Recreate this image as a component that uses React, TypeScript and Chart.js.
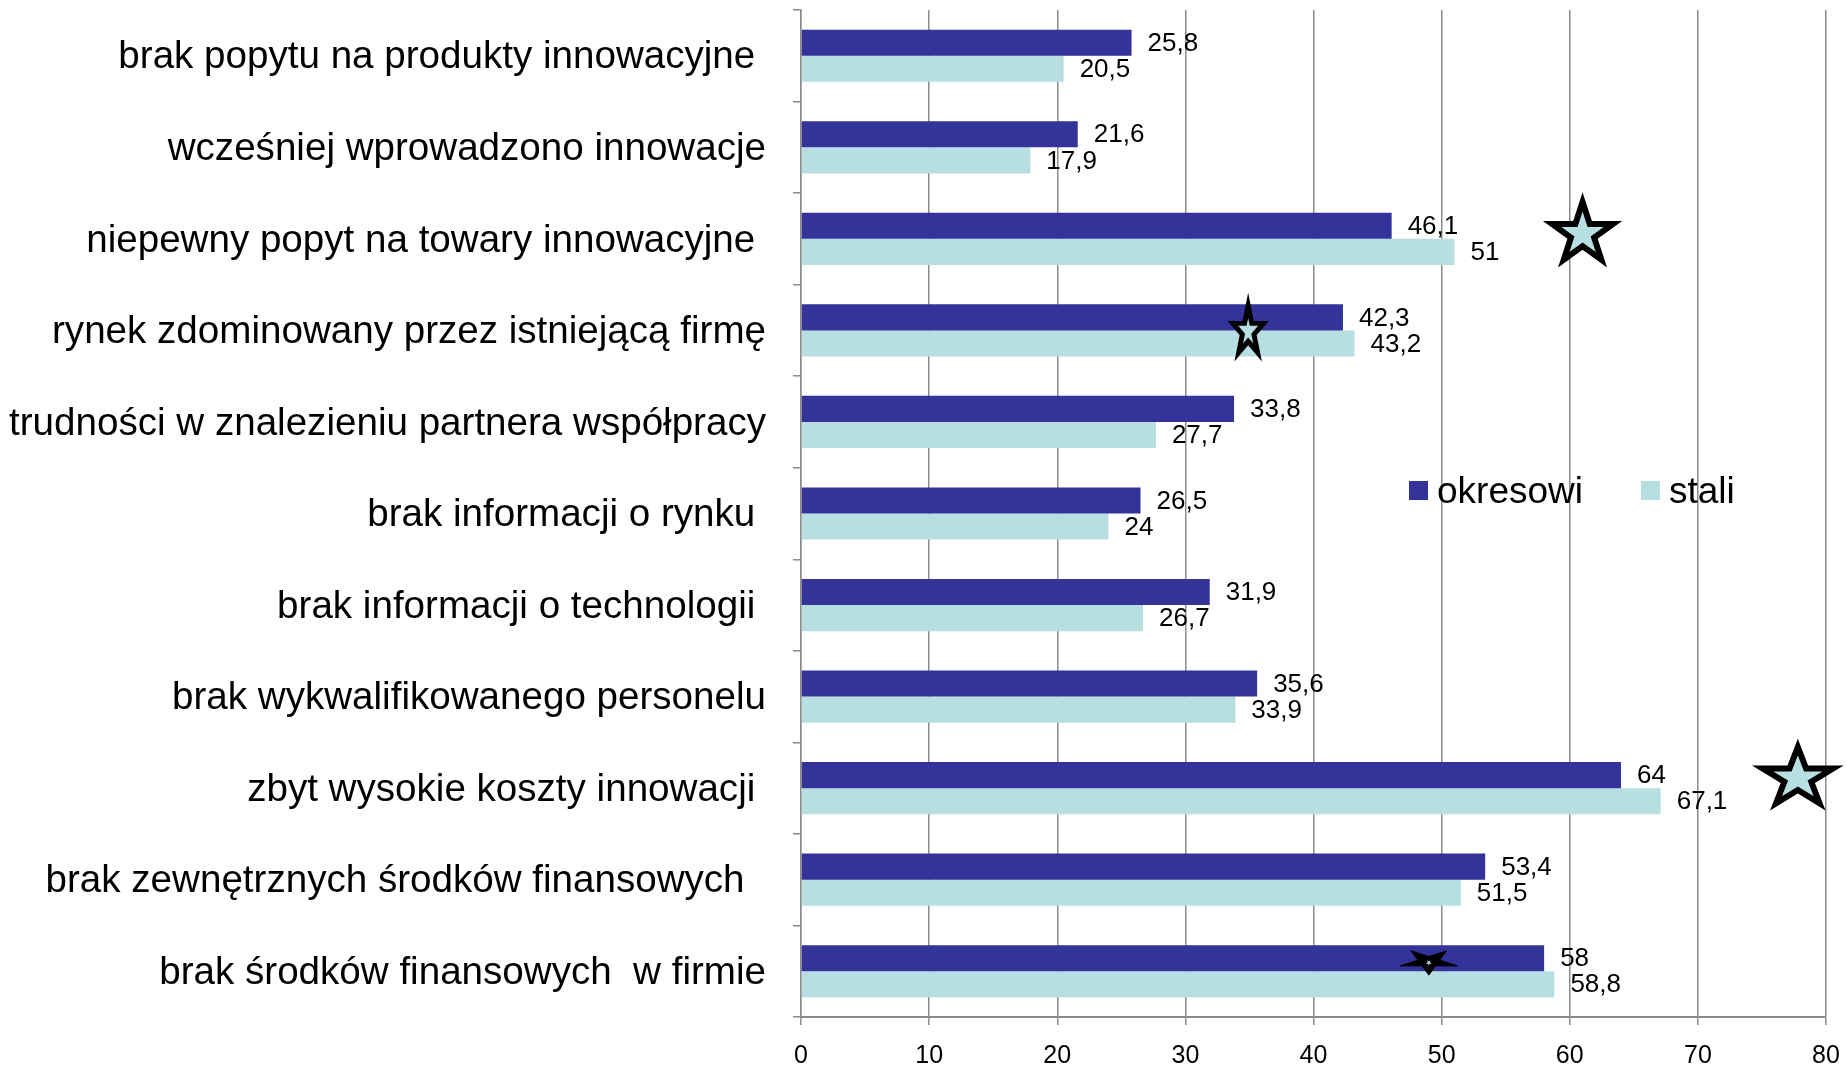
import React, { useEffect, useRef } from 'react';
import { Chart, registerables } from 'chart.js';

Chart.register(...registerables);

const categories = [
  'brak popytu na produkty innowacyjne ',
  'wcześniej wprowadzono innowacje',
  'niepewny popyt na towary innowacyjne ',
  'rynek zdominowany przez istniejącą firmę',
  'trudności w znalezieniu partnera współpracy',
  'brak informacji o rynku ',
  'brak informacji o technologii ',
  'brak wykwalifikowanego personelu',
  'zbyt wysokie koszty innowacji ',
  'brak zewnętrznych środków finansowych  ',
  'brak środków finansowych  w firmie',
];

const seriesNames = ['okresowi', 'stali'];
const okresowi = [25.8, 21.6, 46.1, 42.3, 33.8, 26.5, 31.9, 35.6, 64, 53.4, 58];
const stali = [20.5, 17.9, 51, 43.2, 27.7, 24, 26.7, 33.9, 67.1, 51.5, 58.8];

const xTicks = [0, 10, 20, 30, 40, 50, 60, 70, 80];

// star markers: x value and category index
const starValues = [61.0, 34.9, 77.8, 49.0];
const starCategories = [2, 3, 8, 10];

const DARK = '#333399';
const LIGHT = '#b7dfe2';
const GRID = '#8c8c8c';
const FONT = '"Liberation Sans", Arial, sans-serif';

const STAR_STYLES = [
  { dy: -5, rx: 32, ry: 32, lw: 6, fill: LIGHT, inverted: false, dot: false },
  { dy: 1, rx: 16, ry: 26, lw: 5, fill: LIGHT, inverted: false, dot: false },
  { dy: -10, rx: 37, ry: 31, lw: 6, fill: LIGHT, inverted: false, dot: false },
  { dy: -9.5, rx: 30, ry: 13.4, lw: 1, fill: '#000000', inverted: true, dot: true },
];

function starPath(ctx: CanvasRenderingContext2D, cx: number, cy: number, rx: number, ry: number, inverted: boolean, inner = 0.382) {
  ctx.beginPath();
  for (let i = 0; i < 10; i++) {
    const a = (inverted ? Math.PI / 2 : -Math.PI / 2) + (i * Math.PI) / 5;
    const r = i % 2 === 0 ? 1 : inner;
    const x = cx + rx * r * Math.cos(a);
    const y = cy + ry * r * Math.sin(a);
    if (i === 0) ctx.moveTo(x, y);
    else ctx.lineTo(x, y);
  }
  ctx.closePath();
}

const valueLabels = {
  id: 'valueLabels',
  afterDatasetsDraw(chart: any) {
    const ctx = chart.ctx as CanvasRenderingContext2D;
    ctx.save();
    ctx.font = `26px ${FONT}`;
    ctx.fillStyle = '#000';
    ctx.textBaseline = 'middle';
    ctx.textAlign = 'left';
    chart.data.datasets.forEach((ds: any, i: number) => {
      const meta = chart.getDatasetMeta(i);
      meta.data.forEach((bar: any, j: number) => {
        const v = ds.data[j];
        ctx.fillText(String(v).replace('.', ','), bar.x + 16, bar.y + 1);
      });
    });
    ctx.restore();
  },
};

const starMarkers = {
  id: 'starMarkers',
  afterDatasetsDraw(chart: any) {
    const ctx = chart.ctx as CanvasRenderingContext2D;
    const xs = chart.scales.x;
    const ys = chart.scales.y;
    ctx.save();
    starValues.forEach((v, i) => {
      const st = STAR_STYLES[i];
      const cx = xs.getPixelForValue(v);
      const cy = ys.getPixelForValue(starCategories[i]) + st.dy;
      starPath(ctx, cx, cy, st.rx, st.ry, st.inverted);
      ctx.fillStyle = st.fill;
      ctx.fill();
      ctx.lineJoin = 'miter';
      ctx.miterLimit = 10;
      ctx.lineWidth = st.lw;
      ctx.strokeStyle = '#000';
      ctx.stroke();
      if (st.dot) {
        starPath(ctx, cx, cy + 1, 3, 3, true);
        ctx.fillStyle = LIGHT;
        ctx.fill();
      }
    });
    ctx.restore();
  },
};

const legendBox = {
  id: 'legendBox',
  afterDraw(chart: any) {
    const ctx = chart.ctx as CanvasRenderingContext2D;
    ctx.save();
    ctx.font = `37px ${FONT}`;
    ctx.textBaseline = 'alphabetic';
    ctx.textAlign = 'left';
    const positions = [1409, 1641];
    chart.data.datasets.forEach((ds: any, i: number) => {
      const x = positions[i];
      ctx.fillStyle = ds.backgroundColor;
      ctx.fillRect(x, 481, 19, 19);
      ctx.fillStyle = '#000';
      ctx.fillText(ds.label, x + 28, 503);
    });
    ctx.restore();
  },
};

export default function App() {
  const ref = useRef<HTMLCanvasElement | null>(null);

  useEffect(() => {
    document.body.style.margin = '0';
    document.documentElement.style.overflow = 'hidden';
    const canvas = ref.current;
    if (!canvas) return;
    const chart = new Chart(canvas, {
      type: 'bar',
      data: {
        labels: categories,
        datasets: [
          { label: seriesNames[0], data: okresowi, backgroundColor: DARK, borderWidth: 0, categoryPercentage: 0.57, barPercentage: 1.0 },
          { label: seriesNames[1], data: stali, backgroundColor: LIGHT, borderWidth: 0, categoryPercentage: 0.57, barPercentage: 1.0 },
        ],
      },
      options: {
        indexAxis: 'y',
        responsive: false,
        animation: false,
        events: [],
        layout: { padding: { top: 10, right: 21, bottom: 0, left: 0 } },
        plugins: {
          legend: { display: false },
          tooltip: { enabled: false },
          title: { display: false },
        },
        scales: {
          x: {
            type: 'linear',
            min: 0,
            max: 80,
            grid: { color: GRID, lineWidth: 1.5, drawTicks: true, tickLength: 8 },
            border: { color: GRID, width: 2 },
            ticks: { stepSize: 10, color: '#000', font: { size: 25, family: FONT }, padding: 16 },
            afterBuildTicks: (s: any) => {
              s.ticks = xTicks.map((v) => ({ value: v }));
            },
            afterFit: (s: any) => {
              s.height = 52;
              s.paddingLeft = 0;
              s.paddingRight = 0;
            },
          },
          y: {
            type: 'category',
            offset: true,
            grid: { offset: true, drawOnChartArea: false, drawTicks: true, tickLength: 8, color: GRID, lineWidth: 1.5 },
            border: { color: GRID, width: 1.5 },
            ticks: { color: '#000', font: { size: 38.6, family: FONT }, padding: 27, autoSkip: false, labelOffset: 2 },
            afterFit: (s: any) => {
              s.width = 801;
              s.paddingTop = 0;
              s.paddingBottom = 0;
            },
          },
        },
      },
      plugins: [valueLabels, starMarkers, legendBox],
    } as any);
    return () => chart.destroy();
  }, []);

  return (
    <div style={{ width: 1847, height: 1069 }}>
      <canvas ref={ref} width={1847} height={1069} style={{ display: 'block' }} />
    </div>
  );
}
